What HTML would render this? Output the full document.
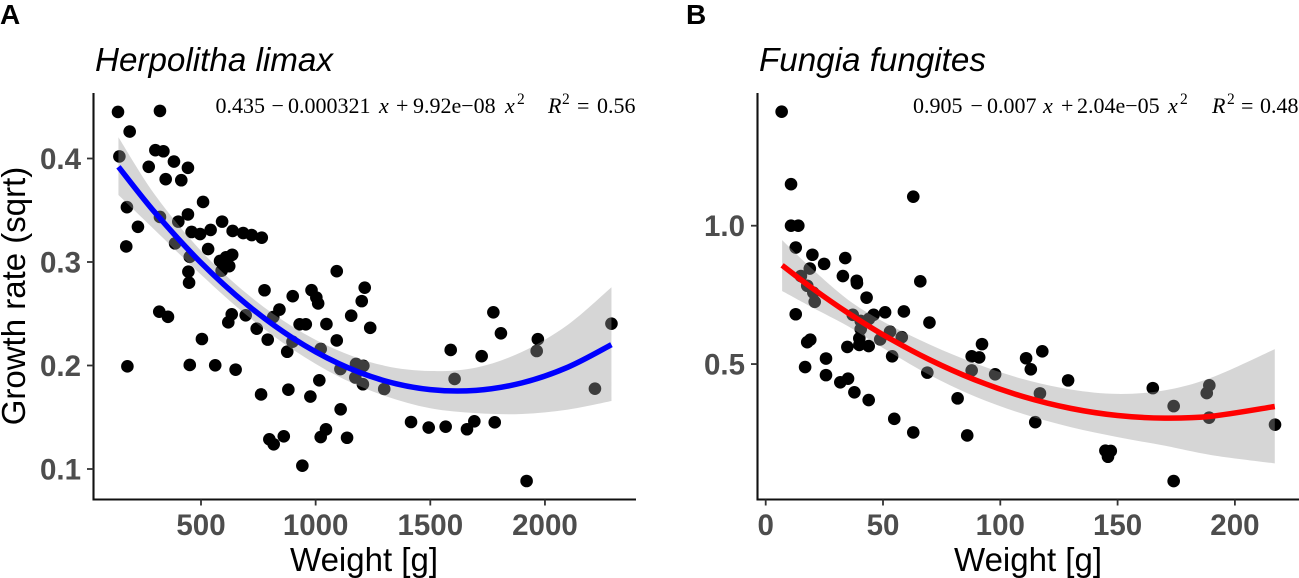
<!DOCTYPE html>
<html lang="en">
<head>
<meta charset="utf-8">
<title>Growth rate vs weight</title>
<style>
html,body{margin:0;padding:0;background:#fff;}
svg{display:block;}
text{font-family:"Liberation Sans",sans-serif;}
.eq text{font-family:"Liberation Serif",serif;font-size:22px;fill:#000;}
.eq .it{font-style:italic;}
.eq .sup{font-size:15.5px;}
.title{font-size:33.2px;font-style:italic;fill:#000;}
.axt{font-size:33px;fill:#000;}
.tag{font-size:28px;font-weight:bold;fill:#000;}
.tick{font-size:29.5px;font-weight:bold;fill:#4d4d4d;}
</style>
</head>
<body>
<svg id="chart" xmlns="http://www.w3.org/2000/svg" width="1299" height="578" viewBox="0 0 1299 578">
  <rect x="0" y="0" width="1299" height="578" fill="#fff"/>
  <text class="tag" x="0" y="24">A</text>
  <text class="tag" x="686" y="24">B</text>
  <text class="title" x="95" y="71">Herpolitha limax</text>
  <text class="title" x="759" y="71">Fungia fungites</text>

  <g id="panel-a"></g>
  <g id="panel-b"></g>

  <g class="eq">
    <text x="215.5" y="113">0.435</text><text x="271.5" y="113">−</text><text x="288" y="113">0.000321</text>
    <text class="it" x="379" y="113">x</text><text x="396" y="113">+</text><text x="413" y="113">9.92e−08</text>
    <text class="it" x="505" y="113">x</text><text class="sup" x="517" y="104">2</text>
    <text class="it" x="548" y="113">R</text><text class="sup" x="562" y="104">2</text>
    <text x="577" y="113">=</text><text x="597" y="113">0.56</text>
  </g>
  <g class="eq">
    <text x="913" y="113">0.905</text><text x="970.5" y="113">−</text><text x="987" y="113">0.007</text>
    <text class="it" x="1043" y="113">x</text><text x="1061" y="113">+</text><text x="1077" y="113">2.04e−05</text>
    <text class="it" x="1168" y="113">x</text><text class="sup" x="1180" y="104">2</text>
    <text class="it" x="1212" y="113">R</text><text class="sup" x="1227" y="104">2</text>
    <text x="1241" y="113">=</text><text x="1260" y="113">0.48</text>
  </g>

  <text class="axt" text-anchor="middle" transform="translate(25,296) rotate(-90)">Growth rate (sqrt)</text>
  <text class="axt" text-anchor="middle" x="364" y="571">Weight [g]</text>
  <text class="axt" text-anchor="middle" x="1028" y="571">Weight [g]</text>
</svg>
<script>
// Panel A data
const aWeights = [138,321,189,144,301,336,382,443,272,346,414,509,177,225,174,321,401,443,592,459,496,542,638,684,721,765,387,531,451,636,609,583,623,590,445,448,777,318,356,634,619,695,900,982,1003,1011,842,815,743,791,930,957,1047,899,876,1022,504,179,451,562,651,762,881,977,1016,798,817,861,1022,1045,942,1092,1214,1201,1155,1238,1092,1176,1208,1108,1173,1206,1299,1109,1137,1589,1606,1724,1775,1808,1969,1964,2218,2290,1416,1493,1567,1660,1692,1781,1920];
const aRates = [.445,.446,.426,.402,.408,.407,.397,.391,.392,.380,.379,.358,.353,.334,.315,.3435,.339,.346,.339,.329,.327,.331,.330,.328,.326,.3235,.318,.3125,.305,.307,.3045,.301,.296,.2916,.2906,.280,.2727,.252,.247,.2495,.2417,.2485,.267,.2728,.2657,.260,.254,.2468,.2356,.225,.2398,.2398,.240,.223,.2133,.216,.2256,.1992,.2005,.2002,.196,.172,.1766,.170,.1857,.1287,.1239,.1316,.1309,.1383,.1032,.2911,.2752,.2622,.2481,.2364,.2242,.2015,.1997,.1966,.1884,.1819,.1773,.1577,.1302,.215,.187,.209,.2514,.2311,.2254,.214,.1776,.2404,.1454,.14,.1409,.1384,.1461,.1451,.0884];
const aFitX = [140,300,500,700,900,1100,1300,1500,1700,1900,2100,2290];
const aFitY = [.3920,.3476,.2993,.2589,.2265,.2019,.1853,.1767,.1760,.1832,.1984,.2201];
const aUpper = [.4205,.3646,.3108,.2694,.2375,.2144,.1998,.1947,.1980,.2132,.2394,.2756];
const aLower = [.3647,.3306,.2878,.2484,.2155,.1894,.1708,.1587,.1540,.1532,.1574,.1657];
const aXTicks = [500,1000,1500,2000];
const aYTicks = [0.1,0.2,0.3,0.4];
const aXTickLabels = ['500','1000','1500','2000'];
const aYTickLabels = ['0.1','0.2','0.3','0.4'];

// Panel B data
const bWeights = [6.8,10.8,10.8,13.9,62.9,12.8,19.9,24.9,33.9,18.8,15.0,32.9,38.8,38.9,65.9,17.7,20.3,20.9,43.0,12.8,37.1,46.0,50.9,58.9,44.0,40.5,69.8,40.5,53.0,58.0,48.8,39.9,19.0,17.7,39.9,34.8,43.9,53.9,25.7,16.8,68.9,25.7,31.8,35.1,37.8,43.9,54.8,62.9,81.8,85.9,87.8,91.0,92.2,87.8,97.8,111,117.9,113,128.9,116.9,114.9,165,173.9,173.9,189.1,188,189,217.1,144.8,147.1,145.9];
const bRates = [1.412,1.150,1.000,1.000,1.105,.921,.895,.862,.883,.845,.818,.818,.801,.792,.799,.783,.758,.725,.740,.680,.678,.678,.687,.690,.663,.656,.650,.626,.617,.597,.589,.593,.588,.579,.569,.562,.565,.528,.520,.489,.469,.460,.434,.447,.398,.370,.302,.253,.376,.242,.528,.524,.572,.477,.463,.521,.546,.481,.441,.394,.290,.413,.348,.077,.423,.395,.306,.281,.187,.186,.165];
const bFitX = [7,20,35,50,70,90,110,130,150,170,190,217];
const bFitY = [.857,.7732,.685,.606,.515,.4402,.3818,.3398,.314,.3046,.3114,.3466];
const bUpper = [.948,.842,.733,.654,.570,.500,.445,.408,.392,.405,.451,.554];
const bLower = [.764,.704,.637,.558,.460,.380,.319,.272,.236,.205,.171,.141];
const bXTicks = [0,50,100,150,200];
const bYTicks = [0.5,1.0];
const bXTickLabels = ['0','50','100','150','200'];
const bYTickLabels = ['0.5','1.0'];

const NS = 'http://www.w3.org/2000/svg';
function make(tag, attrs, parent) {
  const el = document.createElementNS(NS, tag);
  for (const k in attrs) el.setAttribute(k, attrs[k]);
  parent.appendChild(el);
  return el;
}
function curve(pts) {
  let d = '';
  for (let i = 0; i < pts.length - 1; i++) {
    const p0 = pts[Math.max(i - 1, 0)], p1 = pts[i], p2 = pts[i + 1], p3 = pts[Math.min(i + 2, pts.length - 1)];
    const c1x = p1[0] + (p2[0] - p0[0]) / 6, c1y = p1[1] + (p2[1] - p0[1]) / 6;
    const c2x = p2[0] - (p3[0] - p1[0]) / 6, c2y = p2[1] - (p3[1] - p1[1]) / 6;
    d += 'C' + c1x.toFixed(2) + ' ' + c1y.toFixed(2) + ' ' + c2x.toFixed(2) + ' ' + c2y.toFixed(2) + ' ' + p2[0].toFixed(2) + ' ' + p2[1].toFixed(2);
  }
  return d;
}
function drawPanel(g, opt) {
  const sx = opt.sx, sy = opt.sy;
  // scatter points
  opt.weights.forEach(function (w, i) {
    const c = make('circle', {cx: sx(w), cy: sy(opt.rates[i]), r: 6.3, fill: '#000'}, g);
    
    
  });
  // confidence band
  const up = opt.fitX.map(function (x, i) { return [sx(x), sy(opt.upper[i])]; });
  const lo = opt.fitX.map(function (x, i) { return [sx(x), sy(opt.lower[i])]; }).reverse();
  const band = make('path', {
    d: 'M' + up[0][0] + ' ' + up[0][1] + curve(up) + 'L' + lo[0][0] + ' ' + lo[0][1] + curve(lo) + 'Z',
    fill: '#999', 'fill-opacity': 0.4, stroke: 'none'
  }, g);
  
  
  // fit line
  const fit = opt.fitX.map(function (x, i) { return [sx(x), sy(opt.fitY[i])]; });
  const line = make('path', {
    d: 'M' + fit[0][0] + ' ' + fit[0][1] + curve(fit),
    fill: 'none', stroke: opt.color, 'stroke-width': 5.5
  }, g);
  
  
  // axes
  const yAxis = make('line', {x1: opt.left, x2: opt.left, y1: 93, y2: 500.4, stroke: '#111', 'stroke-width': 2.1}, g);
  
  
  const xAxis = make('line', {x1: opt.left - 1, x2: opt.right, y1: 499.5, y2: 499.5, stroke: '#111', 'stroke-width': 2.1}, g);
  
  
  // ticks
  opt.xTicks.forEach(function (v, i) {
    const t = make('line', {x1: sx(v), x2: sx(v), y1: 499.5, y2: 505.5, stroke: '#333', 'stroke-width': 1.8}, g);
    
    
    const l = make('text', {x: sx(v), y: 535, 'text-anchor': 'middle', class: 'tick'}, g);
    
    
    l.textContent = opt.xLabels[i];
  });
  opt.yTicks.forEach(function (v, i) {
    const t = make('line', {x1: opt.left - 6.5, x2: opt.left, y1: sy(v), y2: sy(v), stroke: '#333', 'stroke-width': 1.8}, g);
    
    
    const l = make('text', {x: opt.left - 12.5, y: sy(v) + 10.5, 'text-anchor': 'end', class: 'tick'}, g);
    
    
    l.textContent = opt.yLabels[i];
  });
}
drawPanel(document.getElementById('panel-a'), {
  sx: function (v) { return 201 + (v - 500) * 0.2293; },
  sy: function (v) { return 158.5 + (0.4 - v) * 1035; },
  left: 93.5, right: 636, color: '#0000ff',
  weights: aWeights, rates: aRates, fitX: aFitX, fitY: aFitY, upper: aUpper, lower: aLower,
  xTicks: aXTicks, yTicks: aYTicks, xLabels: aXTickLabels, yLabels: aYTickLabels
});
drawPanel(document.getElementById('panel-b'), {
  sx: function (v) { return 765.7 + v * 2.346; },
  sy: function (v) { return 225.7 + (1 - v) * 276.7; },
  left: 757.5, right: 1299, color: '#ff0000',
  weights: bWeights, rates: bRates, fitX: bFitX, fitY: bFitY, upper: bUpper, lower: bLower,
  xTicks: bXTicks, yTicks: bYTicks, xLabels: bXTickLabels, yLabels: bYTickLabels
});
</script>
</body>
</html>
